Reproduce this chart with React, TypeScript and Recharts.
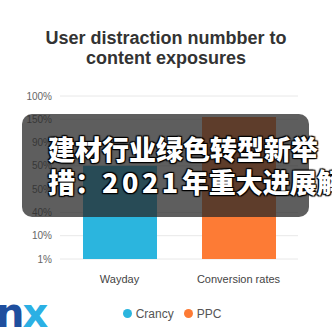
import { Bar, BarChart, CartesianGrid, LabelList, Legend, XAxis, YAxis } from "recharts";

const categories = ["Wayday", "Conversion rates"];
const crancy = [4.0, null];
const ppc = [null, 6.1];
const barNotes = ["", "2018/ PMI"];
const yLabels = ["1%", "10%", "40%", "50%", "50%", "90%", "150%", "100%"];
const yTicks = yLabels.map((_, i) => i);

const data = categories.map((name, i) => ({
  name,
  crancy: crancy[i],
  ppc: ppc[i],
  note: barNotes[i]
}));

const font = "'Liberation Sans', Arial, sans-serif";

function NoteLabel(props: any) {
  const { x, y, width, index } = props;
  const text = barNotes[index];
  if (!text) return null;
  return (
    <text x={x + width / 2} y={y - 6} textAnchor="middle" fontSize={10} fontWeight={700} fill="#333" fontFamily={font}>
      {text}
    </text>
  );
}

const outline = "0 0 2px #000, 1px 1px 1px #000, -1px -1px 1px #000, 1px -1px 1px #000, -1px 1px 1px #000";

export default function App() {
  return (
    <div style={{ position: "absolute", left: 0, top: 0, width: 332, height: 332, background: "#fff", overflow: "hidden", fontFamily: font }}>
      <div style={{ position: "absolute", top: 28, width: 332, textAlign: "center", fontSize: 18, fontWeight: 700, color: "#333", lineHeight: "20px" }}>
        User distraction numbber to
        <br />
        content exposures
      </div>
      <BarChart width={332} height={332} data={data} margin={{ top: 96, right: 34, bottom: 4, left: 0 }}>
        <CartesianGrid vertical={false} stroke="#e8e8e8" />
        <XAxis dataKey="name" axisLine={false} tickLine={false} height={45} tickMargin={10} tick={{ fontSize: 11, fill: "#444", fontFamily: font }} />
        <YAxis
          type="number"
          domain={[0, 7]}
          ticks={yTicks}
          interval={0}
          width={60}
          axisLine={false}
          tickLine={false}
          tickFormatter={(v: number) => yLabels[v]}
          tick={{ fontSize: 10, fill: "#666", fontFamily: font }}
        />
        <Legend
          verticalAlign="bottom"
          iconType="circle"
          iconSize={9}
          height={24}
          wrapperStyle={{ left: 28 }}
          formatter={(value: string) => <span style={{ color: "#555", fontSize: 12, fontFamily: font }}>{value}</span>}
        />
        <Bar dataKey="crancy" name="Crancy" stackId="a" fill="#2bb5de" barSize={74} isAnimationActive={false} />
        <Bar dataKey="ppc" name="PPC" stackId="a" fill="#fd7b35" barSize={74} isAnimationActive={false}>
          <LabelList dataKey="note" content={NoteLabel} />
        </Bar>
      </BarChart>
      <div style={{ position: "absolute", left: -4, top: 290, fontSize: 40, fontWeight: 700, fontFamily: "'DejaVu Sans', sans-serif", letterSpacing: -2 }}>
        <span style={{ color: "#1f4f9e" }}>n</span>
        <span style={{ color: "#2bb0e4" }}>x</span>
      </div>
      <div style={{ position: "absolute", left: 22, top: 114, width: 287, height: 103, borderRadius: 10, background: "rgba(40,40,40,0.75)" }} />
      <div
        style={{
          position: "absolute",
          left: 48,
          top: 132,
          whiteSpace: "nowrap",
          fontFamily: "'Noto Sans CJK SC', sans-serif",
          fontWeight: 900,
          fontSize: 27,
          lineHeight: "33px",
          color: "#fff",
          textShadow: outline
        }}
      >
        建材行业绿色转型新举
        <br />
        措：<span style={{ letterSpacing: 3.5 }}>2021</span>年重大进展解读
      </div>
    </div>
  );
}
